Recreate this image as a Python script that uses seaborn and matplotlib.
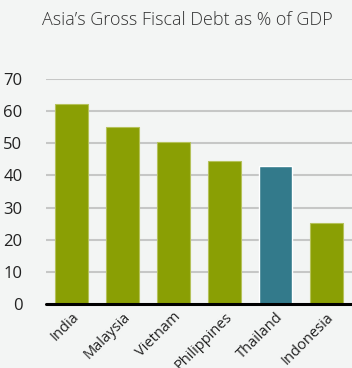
import matplotlib
matplotlib.use("Agg")
import matplotlib.pyplot as plt
import seaborn as sns
import pandas as pd

countries = ["India", "Malaysia", "Vietnam", "Philippines", "Thailand", "Indonesia"]
debt_pct = [62.2, 55.1, 50.4, 44.5, 42.9, 25.2]
highlight = "Thailand"
yticks = [0, 10, 20, 30, 40, 50, 60, 70]
title = "Asia\u2019s Gross Fiscal Debt as % of GDP"

GREEN = "#8a9f04"
TEAL = "#337a8b"
BG = "#f3f5f4"

sns.set_theme(style="white")
plt.rcParams["font.family"] = ["Open Sans", "DejaVu Sans"]

df = pd.DataFrame({"country": countries, "debt": debt_pct})
palette = {c: (TEAL if c == highlight else GREEN) for c in countries}

fig = plt.figure(figsize=(3.52, 3.68), dpi=100, facecolor=BG)
ax = fig.add_axes([46 / 352, 1 - 304 / 368, 1 - 46 / 352, (304 - 79) / 368])
ax.set_facecolor(BG)

for y in yticks[1:]:
    ax.axhline(y, color="#c6c7c6", lw=1.5, zorder=0)

sns.barplot(data=df, x="country", y="debt", hue="country", palette=palette,
            width=0.63, legend=False, ax=ax, zorder=2, saturation=1)
for p, c in zip(ax.patches, countries):
    if c != highlight:
        p.set_edgecolor("#b5c25a")
        p.set_linewidth(0.8)

ax.axhline(0, color="black", lw=2.2, zorder=3, clip_on=False)
ax.set_xlim(-0.5, 5.5)
ax.set_ylim(0, 70)
ax.set_yticks(yticks)
ax.set_yticklabels([str(v) for v in yticks], fontsize=12, color="#222222")
ax.tick_params(axis="y", length=0, pad=17)
ax.tick_params(axis="x", length=0, pad=4)
ax.set_xticks(range(len(countries)))
ax.set_xticklabels(countries, rotation=45, ha="right", rotation_mode="anchor",
                   fontsize=10.5, color="#222222")
ax.set_xlabel("")
ax.set_ylabel("")
for s in ax.spines.values():
    s.set_visible(False)

fig.text(187 / 352, 1 - 20 / 368, title, ha="center", va="center",
         fontsize=13, color="#333333", fontweight="light")

fig.savefig("out.png", dpi=100, facecolor=BG)
